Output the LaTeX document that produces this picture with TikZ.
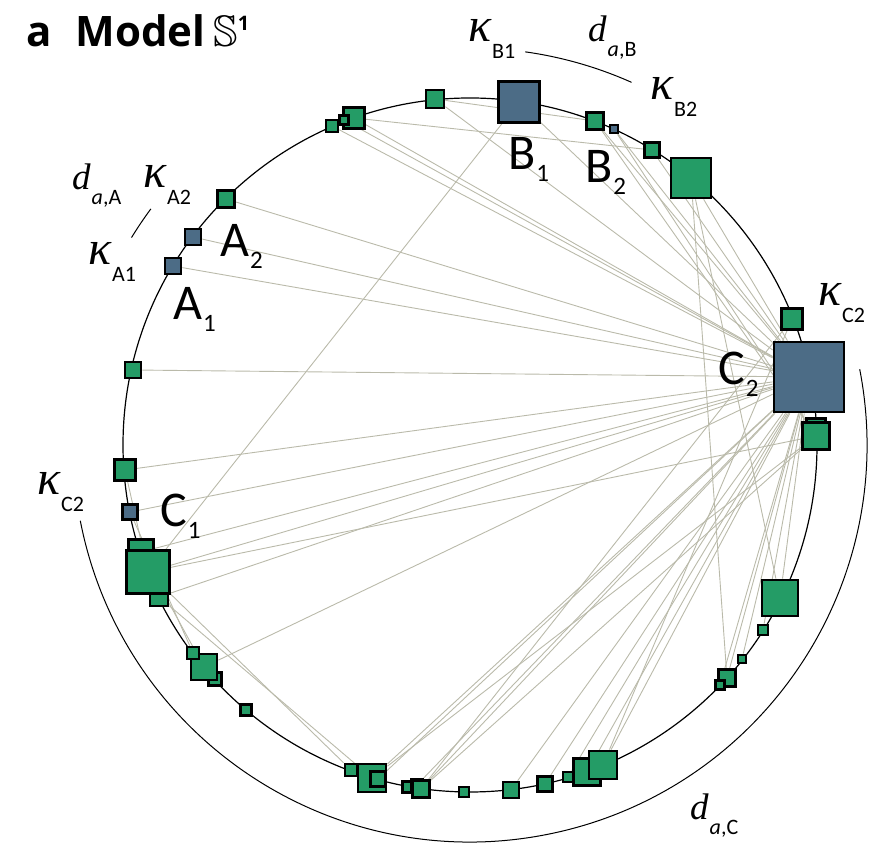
\documentclass[tikz,border=0pt]{standalone}
\usepackage{amssymb}
\DeclareFontFamily{U}{msb}{}
\DeclareFontShape{U}{msb}{m}{n}{<-> msbm10}{}
\usepackage{fontspec}
\setmainfont{Carlito}
\newfontfamily\titlefont{Open Sans}
\newfontfamily\symfont{Liberation Serif}
\usepackage{xcolor}
\definecolor{nodegreen}{RGB}{36,156,102}
\definecolor{nodeblue}{RGB}{76,108,134}
\definecolor{linkgray}{RGB}{186,186,170}
\pgfdeclarelayer{bg}
\pgfsetlayers{bg,main}
\newcommand{\kap}[1]{{\symfont\itshape\fontsize{48}{48}\selectfont κ}\kern1pt\raisebox{-17pt}{\fontsize{22}{22}\selectfont #1}}
\newcommand{\dst}[1]{{\symfont\itshape\fontsize{37}{37}\selectfont d}\kern1pt\raisebox{-15pt}{\fontsize{22}{22}\selectfont\textit{a},#1}}
\newcommand{\nlab}[2]{{\fontsize{50}{50}\selectfont #1}\kern1pt\raisebox{-12pt}{\fontsize{25}{25}\selectfont #2}}

\begin{document}
\begin{tikzpicture}[x=1pt, y=1pt,
  sq/.style={draw, line width=2.8pt, inner sep=0pt, minimum size=#1pt, fill=nodegreen},
  bsq/.style={sq=#1, fill=nodeblue},
  link/.style={draw=linkgray, line width=0.9pt},
  arcline/.style={line width=1pt},
  lab/.style={anchor=base west, inner sep=0pt}]
\useasboundingbox (0,0) rectangle (886,845);
\coordinate (ctr) at (470,400);

% squares on the circle
\node[sq=12] (n1) at (332,719) {};
\node[sq=21] (n3) at (354,727) {};
\node[sq=9] (n2) at (344,725) {};
\node[sq=18] (n4) at (435,746) {};
\node[bsq=41] (B1) at (519,743) {};
\node[sq=17] (n5) at (595,724) {};
\node[bsq=8] (B2) at (614,716) {};
\node[sq=15] (n6) at (652,695) {};
\node[sq=40] (n7) at (691,667) {};
\node[sq=21] (n8) at (792,526) {};
\node[sq=19] (n9b) at (816,417) {};
\node[sq=27] (n9) at (816,409) {};
\node[bsq=70] (C2) at (809,468) {};
\node[sq=36] (n10) at (780,247) {};
\node[sq=10] (n11) at (763,215) {};
\node[sq=8] (n12) at (742,186) {};
\node[sq=17] (n13) at (727,167) {};
\node[sq=9] (n14) at (720,160) {};
\node[sq=27] (n25) at (587,73) {};
\node[sq=28] (n26) at (603,80) {};
\node[sq=10] (n24) at (568,68) {};
\node[sq=15] (n23) at (545,61) {};
\node[sq=16] (n22) at (511,55) {};
\node[sq=10] (n21) at (464,53) {};
\node[sq=11] (n18) at (408,58) {};
\node[sq=11] (n20) at (417,60) {};
\node[sq=17] (n19) at (421,56) {};
\node[sq=12] (n15) at (351,75) {};
\node[sq=28] (n16) at (372,67) {};
\node[sq=15] (n17) at (378,66) {};
\node[sq=11] (n36) at (246,135) {};
\node[sq=13] (n35) at (215,166) {};
\node[sq=26] (n34) at (204,178) {};
\node[sq=12] (n33) at (193,192) {};
\node[sq=25] (n30) at (141,293) {};
\node[sq=18] (n32) at (159,248) {};
\node[sq=43] (n31) at (148,273) {};
\node[bsq=15] (C1) at (130,333) {};
\node[sq=21] (n29) at (125,375) {};
\node[sq=16] (n28) at (133,475) {};
\node[bsq=16] (A1) at (173,579) {};
\node[bsq=16] (A2) at (193,608) {};
\node[sq=17] (n27) at (226,646) {};

\begin{pgfonlayer}{bg}
\draw[line width=1.2pt] (ctr) circle[radius=347];
\foreach \n in {n1,n2,n3,n4,B1,n5,B2,n6,n7,n10,n11,n12,n13,n14,n26,n25,n24,n23,n22,n19,n20,n17,n16,n34,n32,n31,n30,C1,n29,n28,A1,A2,n27}
  \draw[link] (C2) -- (\n);
\foreach \n in {n5,B2,n31,n16,n19}
  \draw[link] (n9) -- (\n);
\foreach \n in {n19,n26}
  \draw[link] (n8) -- (\n);
\draw[link] (B1) -- (n31);
\draw[link] (n31) -- (n15);
\draw[link] (n32) -- (n16);
\draw[link] (n7) -- (n10);
\draw[link] (n7) -- (n13);
\draw[link] (n3) -- (n6);
\draw[link] (n4) -- (n5);
\draw[link] (n29) -- (n31);
\draw[link] (C1) -- (n33);
\draw[link] (n30) -- (n34);
\end{pgfonlayer}

% outer arcs
\draw[arcline] (ctr) ++(191:397) arc[start angle=191, end angle=371, radius=397];
\draw[arcline] (ctr) ++(66:397) arc[start angle=66, end angle=82, radius=397];
\draw[arcline] (ctr) ++(143.5:397) arc[start angle=143.5, end angle=148.5, radius=397];

% labels
\node[lab] (title) at (26,798) {\titlefont\fontsize{42}{42}\selectfont\bfseries a\hspace{24pt}Model\hspace{8pt}{\fontsize{44}{44}\selectfont$\mathbb{S}$}\raisebox{16pt}{\fontsize{20}{20}\selectfont 1}};
\node[lab] (kB1) at (468,803) {\kap{B1}};
\node[lab] (dB) at (588,803) {\dst{B}};
\node[lab] (kB2) at (650,745) {\kap{B2}};
\node[lab] (dA) at (72,655) {\dst{A}};
\node[lab] (kA2) at (143,657) {\kap{A2}};
\node[lab] (kA1) at (88,580) {\kap{A1}};
\node[lab] (kC2r) at (818,539) {\kap{C2}};
\node[lab] (kC2l) at (37,350) {\kap{C2}};
\node[lab] (dC) at (690,25) {\dst{C}};
\node[lab] (lB1) at (508,675) {\nlab{B}{1}};
\node[lab] (lB2) at (585,662) {\nlab{B}{2}};
\node[lab] (lA2) at (220,588) {\nlab{A}{2}};
\node[lab] (lA1) at (173,525) {\nlab{A}{1}};
\node[lab] (lC2) at (718,460) {\nlab{C}{2}};
\node[lab] (lC1) at (160,318) {\nlab{C}{1}};
\end{tikzpicture}
\end{document}
